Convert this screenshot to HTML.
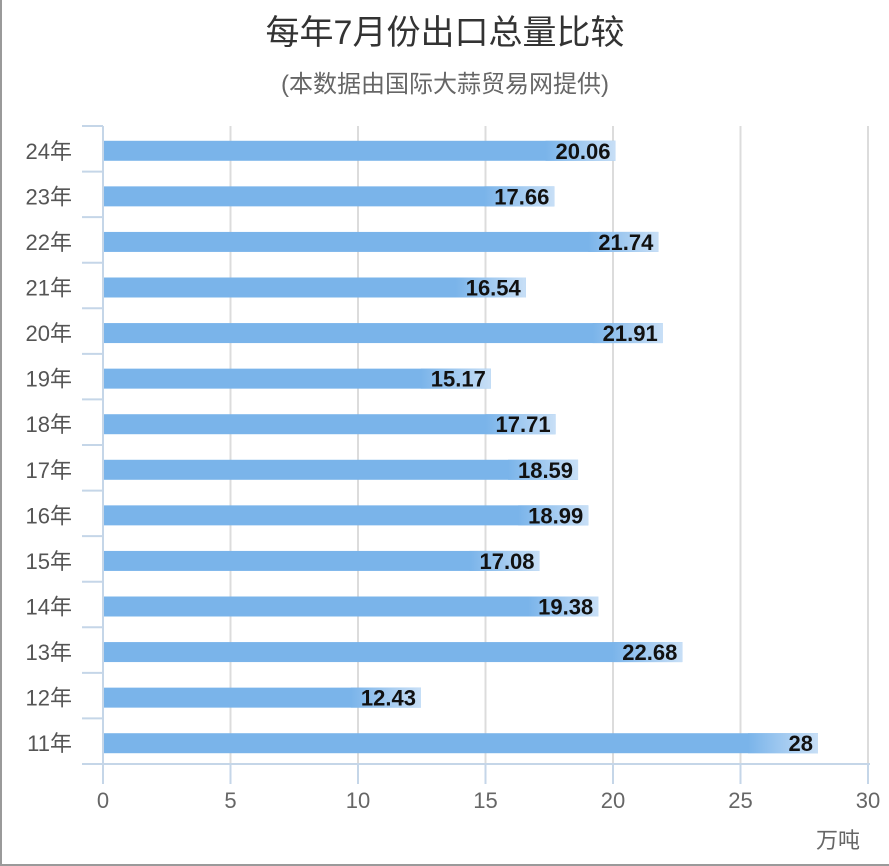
<!DOCTYPE html>
<html><head><meta charset="utf-8"><style>
html,body{margin:0;padding:0;background:#fff}
#wrap{position:relative;border-left:2px solid #9a9a9a;border-bottom:2px solid #9a9a9a;width:887px;height:864px;overflow:hidden;font-family:"Liberation Sans","Noto Sans CJK SC",sans-serif}
</style></head><body>
<div id="wrap">
<svg id="chart" width="887" height="864" xmlns="http://www.w3.org/2000/svg">
<defs>
<linearGradient id="g" x1="0" x2="1" y1="0" y2="0">
<stop offset="0" stop-color="#7ab4ea"/><stop offset="1" stop-color="#c8dff6"/>
</linearGradient>
</defs>
<text x="443" y="44" text-anchor="middle" font-size="34" fill="#333">每年7月份出口总量比较</text>
<text x="443" y="92" text-anchor="middle" font-size="24" fill="#666">(本数据由国际大蒜贸易网提供)</text>
<text x="858" y="848" text-anchor="end" font-size="22" fill="#666">万吨</text>
<g id="plot"></g>
</svg>
</div>
<script>
const categories=["24年","23年","22年","21年","20年","19年","18年","17年","16年","15年","14年","13年","12年","11年"];
const values=[20.06,17.66,21.74,16.54,21.91,15.17,17.71,18.59,18.99,17.08,19.38,22.68,12.43,28];
const valueLabels=["20.06","17.66","21.74","16.54","21.91","15.17","17.71","18.59","18.99","17.08","19.38","22.68","12.43","28"];
const xTicks=[0,5,10,15,20,25,30];
{
const NS="http://www.w3.org/2000/svg";
const x0=101,x1=866,xMax=30,plotTop=126,plotBottom=764;
const xs=v=>x0+(x1-x0)*v/xMax;
const band=(plotBottom-plotTop)/categories.length;
const g=document.getElementById('plot');
function mk(t,a){const e=document.createElementNS(NS,t);for(const k in a)e.setAttribute(k,a[k]);g.appendChild(e);return e;}
xTicks.forEach((t,i)=>{
  const x=xs(t);
  if(i>0){const l=mk('line',{x1:x,x2:x,y1:plotTop,y2:plotBottom,stroke:'#dcdcdc','stroke-width':2});
  
  }
  const tk=mk('line',{x1:x,x2:x,y1:plotBottom,y2:plotBottom+20,stroke:'#c5d6e8','stroke-width':2});
  
  
  const tx=mk('text',{x:x,y:plotBottom+44,'text-anchor':'middle','font-size':22,fill:'#666'});
  tx.textContent=t;
  
  
});
const ax=mk('line',{x1:x0,x2:x1+2,y1:plotBottom,y2:plotBottom,stroke:'#c5d6e8','stroke-width':2});


const ay=mk('line',{x1:x0,x2:x0,y1:plotTop,y2:plotBottom,stroke:'#c5d6e8','stroke-width':2});


for(let i=0;i<=categories.length;i++){
  const y=plotTop+i*band;
  const t=mk('line',{x1:x0-21,x2:x0,y1:y,y2:y,stroke:'#c5d6e8','stroke-width':2});
  
  
}
categories.forEach((c,i)=>{
  const cy=plotTop+(i+0.5)*band+2;
  const lab=mk('text',{x:70,y:cy+8,'text-anchor':'end','font-size':22,fill:'#555'});
  lab.textContent=c;
  
  
  const w=xs(values[i])-x0;
  const r=mk('rect',{x:x0+1,y:cy-10,width:w,height:20,fill:'#7ab4ea'});
  
  
  const gw=Math.min(70,w);
  const gr=mk('rect',{x:x0+1+w-gw,y:cy-10,width:gw,height:20,fill:'url(#g)'});
  
  
  const v=mk('text',{x:x0+w-4,y:cy+8,'text-anchor':'end','font-size':22,'font-weight':'bold',fill:'#111'});
  v.textContent=valueLabels[i];
  
  
});
}
</script>
</body></html>
